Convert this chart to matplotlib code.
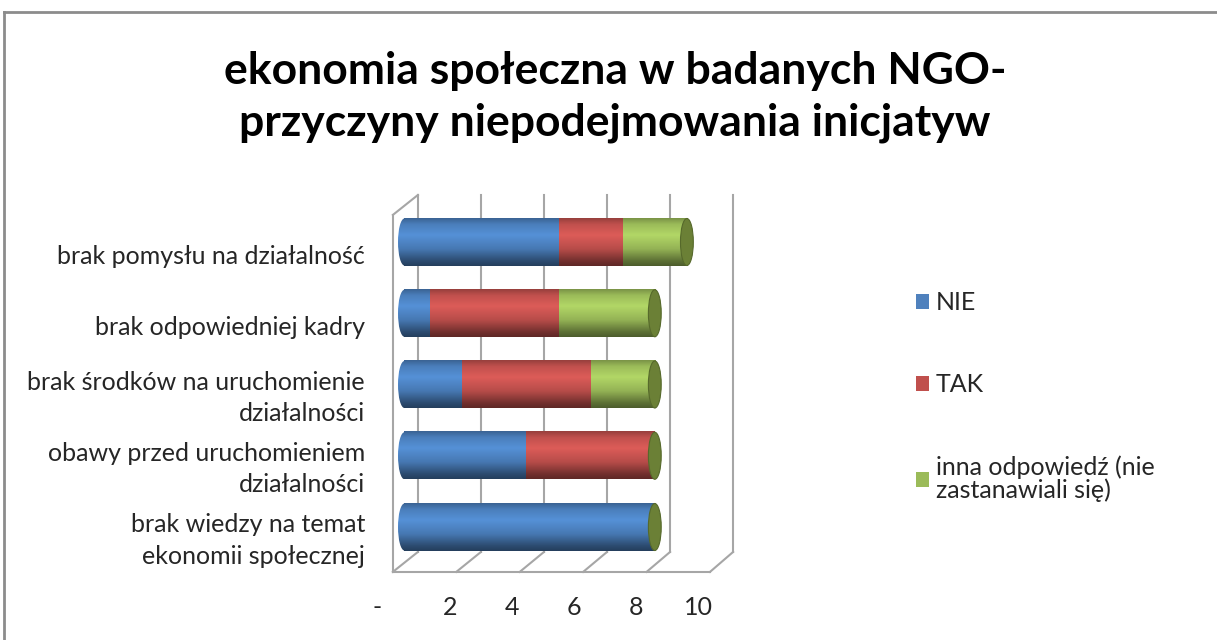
import matplotlib
matplotlib.use("Agg")
import matplotlib.pyplot as plt
import numpy as np
from matplotlib.patches import Ellipse, Patch
from matplotlib.lines import Line2D
from matplotlib.transforms import ScaledTranslation

plt.rcParams["font.family"] = ["Lato", "DejaVu Sans"]

categories = ["brak pomysłu na działalność",
              "brak odpowiedniej kadry",
              "brak środków na uruchomienie\ndziałalności",
              "obawy przed uruchomieniem\ndziałalności",
              "brak wiedzy na temat\nekonomii społecznej"]
series_names = ["NIE", "TAK", "inna odpowiedź (nie\nzastanawiali się)"]
nie = [5, 1, 2, 4, 8]
tak = [2, 4, 4, 4, 0]
inna = [2, 3, 2, 0, 0]
tick_values = [0, 2, 4, 6, 8, 10]
tick_labels = ["-", "2", "4", "6", "8", "10"]
title = "ekonomia społeczna w badanych NGO-\nprzyczyny niepodejmowania inicjatyw"

base_colors = ["#4A7EBB", "#C0504D", "#9BBB59"]
cap_color = "#6B8036"
frame_color = "#A6A6A6"
text_color = "#262626"

W, H = 1217, 640
fig = plt.figure(figsize=(W / 100, H / 100), dpi=100)

# outer chart border (top and left visible)
fig.add_artist(Line2D([4 / W, 1.0], [1 - 12 / H, 1 - 12 / H], transform=fig.transFigure, color="#8C8C8C", lw=2))
fig.add_artist(Line2D([4 / W, 4 / W], [0, 1 - 12 / H], transform=fig.transFigure, color="#8C8C8C", lw=2))

fig.text(615 / W, 1 - 97 / H, title, ha="center", va="center", fontsize=32, fontweight="bold",
         linespacing=1.33, color="#000000")

# plot area: x data 0 at 398 px, 32.1 px per unit; rows 71.25 px apart, first at 242 px
px_unit = 32.1
row_px = 71.25
ax_left, ax_right = 370, 760
ax_top, ax_bottom = 180, 585
ax = fig.add_axes([ax_left / W, 1 - ax_bottom / H, (ax_right - ax_left) / W, (ax_bottom - ax_top) / H])
for s in ax.spines.values():
    s.set_visible(False)

# 3D frame
front_x0, front_k = -0.16, 0.988
back_x0, back_k = 0.62, 0.982
y_back_top, y_back_bot = -0.66, 4.35
y_front_top, y_front_bot = -0.38, 4.63
for v in tick_values:
    bx = back_x0 + back_k * v
    fx = front_x0 + front_k * v
    ax.plot([bx, bx], [y_back_top, y_back_bot], color=frame_color, lw=1.5, zorder=1)
    ax.plot([bx, fx], [y_back_bot, y_front_bot], color=frame_color, lw=1.5, zorder=1)
ax.plot([front_x0, front_x0 + front_k * 10], [y_front_bot, y_front_bot], color=frame_color, lw=1.5, zorder=1)
ax.plot([front_x0, front_x0], [y_front_top, y_front_bot], color=frame_color, lw=1.5, zorder=1)
ax.plot([front_x0, back_x0], [y_front_top, y_back_top], color=frame_color, lw=1.5, zorder=1)


def shade(color, n=40):
    rgb = np.array(matplotlib.colors.to_rgb(color))
    t = np.linspace(0, 1, n)
    f = np.interp(t, [0, 0.12, 0.35, 0.65, 0.9, 1.0], [0.8, 1.0, 1.15, 0.95, 0.6, 0.5])
    return np.clip(rgb[None, :] * f[:, None], 0, 1)[:, None, :]


bar_h = 0.66
rx = 0.2
data = np.array([nie, tak, inna], dtype=float)
for i in range(len(categories)):
    left = 0.0
    top, bot = i - bar_h / 2, i + bar_h / 2
    for j in range(3):
        val = data[j, i]
        if val <= 0:
            continue
        img = shade(base_colors[j])
        start = left + rx if left == 0 else left
        ax.imshow(img, extent=(start, left + val, bot, top), origin="upper", aspect="auto",
                  interpolation="bilinear", zorder=3)
        if left == 0:
            e = Ellipse((rx, i), 2 * rx, bar_h, facecolor="none", edgecolor="none")
            ax.add_patch(e)
            im = ax.imshow(img, extent=(0, 2 * rx, bot, top), origin="upper", aspect="auto",
                           interpolation="bilinear", zorder=3)
            im.set_clip_path(e)
        left += val
    ax.add_patch(Ellipse((left, i), 2 * rx, bar_h, facecolor=cap_color, edgecolor="#56692B", lw=0.8, zorder=4))

ax.set_xlim((ax_left - 398) / px_unit, (ax_right - 398) / px_unit)
ax.set_ylim((ax_bottom - 242) / row_px, (ax_top - 242) / row_px)

ax.set_yticks(range(len(categories)))
ax.set_yticklabels(categories, fontsize=18, color=text_color, linespacing=1.45)
ax.tick_params(axis="y", length=0, pad=3.6)
for lab in ax.get_yticklabels():
    shift = -7 if "\n" in lab.get_text() else -12
    lab.set_transform(lab.get_transform() + ScaledTranslation(0, shift / 100, fig.dpi_scale_trans))

ax.set_xticks([-0.31 + 0.966 * v for v in tick_values])
ax.set_xticklabels(tick_labels, fontsize=18, color=text_color)
ax.tick_params(axis="x", length=0, pad=8)
labs = ax.get_xticklabels()
labs[0].set_transform(labs[0].get_transform() + ScaledTranslation(-11 / 100, 0, fig.dpi_scale_trans))

handles = [Patch(facecolor=c, edgecolor="none") for c in ["#4F81BD", "#C0504D", "#9BBB59"]]
leg = fig.legend(handles, series_names, loc="upper left", bbox_to_anchor=(893 / W, 1 - 269 / H),
                 frameon=False, fontsize=18, handlelength=0.55, handleheight=0.55, handletextpad=0.25,
                 labelspacing=2.35, labelcolor=text_color)
for t in leg.get_texts():
    t.set_linespacing(1.0)

fig.savefig("out.png", dpi=100)
